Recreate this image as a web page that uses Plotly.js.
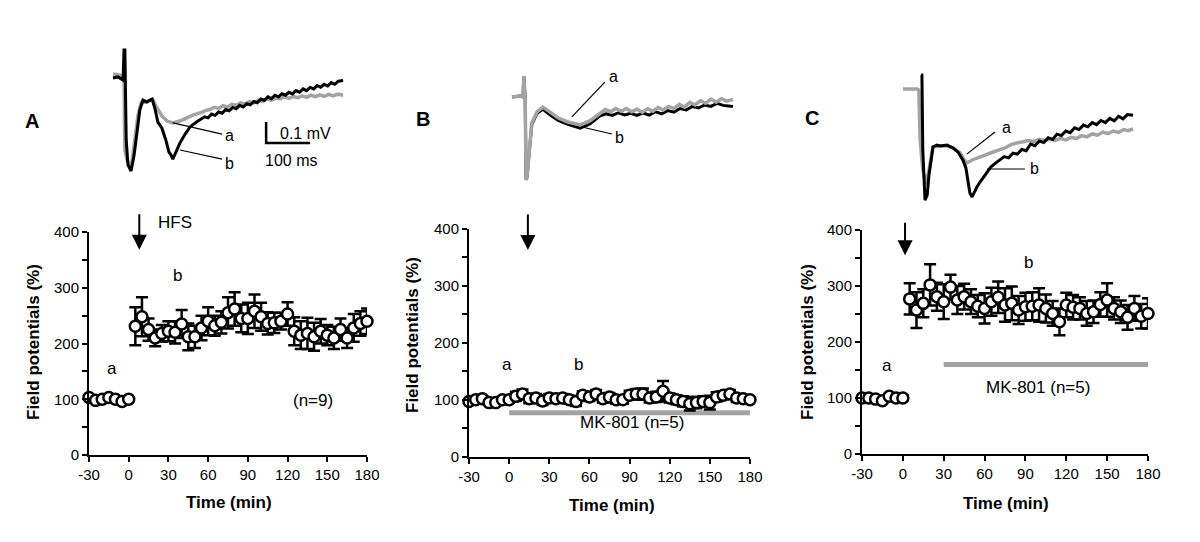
<!DOCTYPE html>
<html><head><meta charset="utf-8">
<script src="https://cdn.plot.ly/plotly-3.0.1.min.js"></script>
<style>html,body{margin:0;padding:0;background:#fff}#chart{width:1200px;height:542px}</style>
</head><body><div id="chart"></div>
<script>
// ---------------- data ----------------
const timeMin = [-30,-25,-20,-15,-10,-5,0,5,10,15,20,25,30,35,40,45,50,55,60,65,70,75,80,85,90,95,100,105,110,115,120,125,130,135,140,145,150,155,160,165,170,175,180];

const fpA = [103,98,100,103,100,96,100, 231,248,225,210,218,222,220,235,212,212,228,240,232,238,255,262,245,245,258,248,236,237,240,253,222,215,218,212,222,215,210,225,210,228,236,240];
const errA = [4,3,3,4,3,3,3, 34,35,20,15,15,18,20,25,24,20,22,25,18,20,28,30,25,28,30,25,20,18,15,21,25,25,28,25,22,18,20,20,18,25,22,23];

const fpB = [97,100,102,95,95,100,100, 106,110,102,103,98,103,102,103,100,97,108,105,110,102,105,100,100,108,110,110,103,105,115,103,100,97,93,95,97,95,105,108,110,103,102,100];
const errB = [4,4,4,4,4,5,5, 8,8,8,7,7,7,7,7,7,8,7,7,7,7,7,7,7,8,9,10,8,9,18,8,8,9,12,10,9,12,8,7,7,7,6,6];

const fpC = [100,100,98,95,103,100,100, 277,257,269,302,281,272,298,275,281,272,264,260,272,280,266,269,257,263,264,266,260,251,236,266,262,260,251,254,267,275,260,254,244,260,246,251];
const errC = [4,4,4,4,4,4,4, 28,32,25,37,25,31,22,25,23,22,20,27,25,28,30,30,25,25,25,30,25,22,24,22,22,20,22,20,22,30,20,20,22,22,22,27];

const xTicks = [-30,0,30,60,90,120,150,180];
const yTicks = [0,50,100,150,200,250,300,350,400];
const yTickText = ['0','','100','','200','','300','','400'];

// drug application bars (MK-801): [start, end, level]
const mk801B = {start: 0, end: 180, level: 77};
const mk801C = {start: 30, end: 180, level: 160};

// HFS arrow times (min) and arrow tip levels (%)
const hfsA = {time: 8, tip: 368};
const hfsB = {time: 14, tip: 363};
const hfsC = {time: 1.6, tip: 355};

// example traces: time (ms) and voltage (mV, relative to baseline)
const trA_a_t = [0,23,25,27,32,39,43,50,57,64,73,84,91,100,111,123,136,152,168,184,200,210,220,230,240,250,260,270,280,290,300,310,320,330,340,350,360,370,380,390,400,410,420,430,440,450,460,470,480,490,500,512,523];
const trA_a_v = [0.019,0.01,0,-0.343,-0.39,-0.419,-0.4,-0.295,-0.176,-0.119,-0.114,-0.105,-0.105,-0.143,-0.181,-0.205,-0.214,-0.205,-0.19,-0.175,-0.165,-0.155,-0.15,-0.14,-0.145,-0.132,-0.138,-0.125,-0.13,-0.118,-0.124,-0.112,-0.118,-0.105,-0.112,-0.1,-0.106,-0.095,-0.1,-0.09,-0.097,-0.088,-0.094,-0.085,-0.092,-0.082,-0.089,-0.08,-0.087,-0.078,-0.085,-0.077,-0.082];
const trA_b_t = [0,11,23,25,27,30,34,41,48,55,61,68,77,84,89,95,102,111,120,127,132,136,143,152,164,175,188,200,208,216,224,232,240,248,256,264,272,280,288,296,304,312,320,328,336,344,352,360,368,376,384,392,400,408,416,424,432,440,448,456,464,472,480,488,496,504,512,523];
const trA_b_v = [0,0.005,-0.01,0.133,0.133,-0.295,-0.414,-0.443,-0.367,-0.248,-0.152,-0.105,-0.114,-0.105,-0.1,-0.143,-0.21,-0.238,-0.295,-0.352,-0.367,-0.386,-0.352,-0.31,-0.267,-0.233,-0.212,-0.195,-0.185,-0.19,-0.172,-0.178,-0.162,-0.168,-0.15,-0.156,-0.14,-0.146,-0.13,-0.138,-0.122,-0.128,-0.112,-0.118,-0.1,-0.106,-0.09,-0.098,-0.082,-0.09,-0.075,-0.082,-0.068,-0.076,-0.06,-0.068,-0.052,-0.06,-0.045,-0.052,-0.036,-0.044,-0.03,-0.038,-0.022,-0.03,-0.015,-0.012];

const trB_a_t = [0,18,25,27,30,32,34,39,45,57,70,86,105,127,155,177,200,212,224,236,248,260,272,284,296,308,320,332,344,356,368,380,392,404,416,428,440,452,464,476,488,502];
const trB_a_v = [0,0.005,0,0.1,-0.014,-0.395,-0.386,-0.252,-0.124,-0.071,-0.048,-0.071,-0.1,-0.119,-0.133,-0.114,-0.076,-0.06,-0.07,-0.055,-0.068,-0.055,-0.07,-0.058,-0.072,-0.056,-0.068,-0.05,-0.062,-0.045,-0.055,-0.035,-0.048,-0.025,-0.038,-0.018,-0.03,-0.01,-0.025,-0.008,-0.02,-0.012];
const trB_b_t = [0,18,25,27,30,32,34,39,45,57,70,86,105,127,155,177,200,214,228,242,256,270,284,298,312,326,340,354,368,382,396,410,424,438,452,466,480,502];
const trB_b_v = [0,0.005,0,0.1,-0.014,-0.39,-0.38,-0.26,-0.13,-0.078,-0.058,-0.085,-0.112,-0.13,-0.148,-0.128,-0.09,-0.08,-0.088,-0.075,-0.085,-0.078,-0.088,-0.076,-0.086,-0.07,-0.08,-0.065,-0.072,-0.055,-0.062,-0.045,-0.052,-0.038,-0.045,-0.03,-0.04,-0.045];

const trC_a_t = [0,32,36,39,45,52,59,64,68,84,100,114,130,139,145,157,168,186,205,232,245,259,272,285,298,310,322,334,346,358,370,382,394,406,418,430,442,454,466,478,490,502,512,523];
const trC_a_v = [0,0,-0.005,-0.243,-0.386,-0.457,-0.386,-0.314,-0.276,-0.271,-0.271,-0.281,-0.305,-0.338,-0.352,-0.338,-0.329,-0.314,-0.3,-0.281,-0.265,-0.257,-0.252,-0.245,-0.25,-0.24,-0.246,-0.238,-0.245,-0.235,-0.242,-0.23,-0.236,-0.222,-0.228,-0.214,-0.22,-0.205,-0.212,-0.2,-0.207,-0.193,-0.198,-0.19];
const trC_b_t = [41,43,45,50,55,59,64,68,77,84,100,114,125,136,143,148,152,157,164,168,175,184,193,200,211,220,230,240,250,260,270,280,290,300,310,320,330,340,350,360,370,380,390,400,410,420,430,440,450,460,470,480,490,500,510,523];
const trC_b_v = [0.067,0.067,-0.29,-0.529,-0.505,-0.41,-0.338,-0.276,-0.267,-0.271,-0.267,-0.281,-0.3,-0.338,-0.376,-0.433,-0.495,-0.514,-0.481,-0.467,-0.443,-0.419,-0.395,-0.371,-0.352,-0.338,-0.322,-0.328,-0.305,-0.31,-0.288,-0.294,-0.262,-0.27,-0.248,-0.255,-0.232,-0.24,-0.215,-0.222,-0.2,-0.208,-0.185,-0.193,-0.172,-0.18,-0.16,-0.17,-0.15,-0.16,-0.14,-0.152,-0.13,-0.142,-0.122,-0.125];

// scale bar
const scaleBarMs = 100, scaleBarMv = 0.1;

// ---------------- layout helpers ----------------
const W = 1200, H = 542;
const PX_PER_MS = 0.44, PX_PER_MV = 210;
const FONT = 'Arial, "Liberation Sans", sans-serif';
const dx = (l, r) => [l / W, r / W];
const dy = (t, b) => [1 - b / H, 1 - t / H];
const px = x => x / W;
const py = y => 1 - y / H;

function mainX(l, r) {
  return {domain: dx(l, r), range: [-30, 180], tickvals: xTicks, ticktext: xTicks.map(String),
    showline: true, linewidth: 2, linecolor: '#000', ticks: 'outside', ticklen: 5, tickwidth: 2, tickcolor: '#000',
    showgrid: false, zeroline: false, tickfont: {family: FONT, size: 15, color: '#000'}, fixedrange: true};
}
function mainY(t, b, anchor) {
  return {domain: dy(t, b), range: [0, 400], anchor: anchor, tickvals: yTicks, ticktext: yTickText,
    showline: true, linewidth: 2, linecolor: '#000', ticks: 'outside', ticklen: 5, tickwidth: 2, tickcolor: '#000',
    showgrid: false, zeroline: false, tickfont: {family: FONT, size: 15, color: '#000'}, fixedrange: true};
}
function insetAxes(box, x0, y0) {
  // box = [left, right, top, bottom] px; (x0,y0) = px position of (0 ms, 0 mV)
  return [
    {domain: dx(box[0], box[1]), range: [(box[0] - x0) / PX_PER_MS, (box[1] - x0) / PX_PER_MS], visible: false, fixedrange: true},
    {domain: dy(box[2], box[3]), range: [(y0 - box[3]) / PX_PER_MV, (y0 - box[2]) / PX_PER_MV], visible: false, fixedrange: true}
  ];
}

const [ixA, iyA] = insetAxes([100, 360, 40, 210], 113, 78);
const [ixB, iyB] = insetAxes([500, 760, 40, 210], 512, 97);
const [ixC, iyC] = insetAxes([890, 1150, 40, 215], 903, 89);

const GRAY = '#a3a3a3';
const traces = [];

function panel(xa, ya, y, err) {
  traces.push({x: timeMin, y: y, xaxis: xa, yaxis: ya, type: 'scatter', mode: 'markers', cliponaxis: false,
    marker: {size: 11, color: '#fff', line: {color: '#000', width: 2.5}},
    error_y: {type: 'data', array: err, visible: true, color: '#000', thickness: 2.5, width: 6},
    hoverinfo: 'x+y'});
}
function bar(xa, ya, b) {
  traces.push({x: [b.start, b.end], y: [b.level, b.level], xaxis: xa, yaxis: ya, type: 'scatter', mode: 'lines',
    line: {color: GRAY, width: 5}, cliponaxis: false, hoverinfo: 'skip'});
}
function line(xa, ya, t, v, color, width) {
  traces.push({x: t, y: v, xaxis: xa, yaxis: ya, type: 'scatter', mode: 'lines',
    line: {color: color, width: width}, hoverinfo: 'skip'});
}

bar('x2', 'y2', mk801B);
bar('x3', 'y3', mk801C);
panel('x', 'y', fpA, errA);
panel('x2', 'y2', fpB, errB);
panel('x3', 'y3', fpC, errC);

// inset A
line('x4', 'y4', trA_a_t, trA_a_v, GRAY, 3.5);
line('x4', 'y4', trA_b_t, trA_b_v, '#000', 3);
line('x4', 'y4', [348, 348, 348 + scaleBarMs], [-0.21, -0.21 - scaleBarMv, -0.21 - scaleBarMv], '#000', 2.5);
line('x4', 'y4', [136, 248], [-0.214, -0.267], '#000', 1.2);
line('x4', 'y4', [152, 248], [-0.343, -0.386], '#000', 1.2);
// inset B
line('x5', 'y5', trB_b_t, trB_b_v, '#000', 3);
line('x5', 'y5', trB_a_t, trB_a_v, GRAY, 3.5);
line('x5', 'y5', [136, 211], [-0.095, 0.071], '#000', 1.2);
line('x5', 'y5', [159, 227], [-0.143, -0.176], '#000', 1.2);
// inset C
line('x6', 'y6', trC_a_t, trC_a_v, GRAY, 3.5);
line('x6', 'y6', trC_b_t, trC_b_v, '#000', 3);
line('x6', 'y6', [145, 209], [-0.31, -0.205], '#000', 1.2);
line('x6', 'y6', [191, 277], [-0.381, -0.381], '#000', 1.2);

function txt(x, y, text, size, bold, extra) {
  return Object.assign({xref: 'paper', yref: 'paper', x: px(x), y: py(y), text: bold ? '<b>' + text + '</b>' : text,
    showarrow: false, xanchor: 'center', yanchor: 'middle', font: {family: FONT, size: size, color: '#000'}}, extra || {});
}
function arrow(xa, ya, a, len) {
  return {xref: xa, yref: ya, x: a.time, y: a.tip, ax: 0, ay: -len, showarrow: true, arrowhead: 2, arrowsize: 1.5,
    arrowwidth: 2, arrowcolor: '#000', text: ''};
}

const annotations = [
  txt(32, 121, 'A', 20, true), txt(423, 119, 'B', 20, true), txt(812, 118, 'C', 20, true),
  // inset labels
  txt(229, 136, 'a', 16), txt(229, 163, 'b', 16),
  txt(278, 133, '0.1 mV', 16, false, {xanchor: 'left'}), txt(263, 161, '100 ms', 16, false, {xanchor: 'left'}),
  txt(613, 77, 'a', 16), txt(619, 137, 'b', 16),
  txt(1007, 127, 'a', 16), txt(1034, 168, 'b', 16),
  // plot labels
  txt(175, 222, 'HFS', 17), txt(112, 368, 'a', 17), txt(177, 275, 'b', 17), txt(313, 400, '(n=9)', 17),
  txt(507, 364, 'a', 17), txt(578, 364, 'b', 17), txt(632, 422, 'MK-801 (n=5)', 17),
  txt(887, 365, 'a', 17), txt(1028, 262, 'b', 17), txt(1038, 387, 'MK-801 (n=5)', 17),
  // axis titles
  txt(33, 342, 'Field potentials (%)', 17, true, {textangle: -90}),
  txt(412, 335, 'Field potentials (%)', 17, true, {textangle: -90}),
  txt(807, 342, 'Field potentials (%)', 17, true, {textangle: -90}),
  txt(229, 502, 'Time (min)', 17, true), txt(612, 505, 'Time (min)', 17, true), txt(1006, 503, 'Time (min)', 17, true),
  arrow('x', 'y', hfsA, 37), arrow('x2', 'y2', hfsB, 37), arrow('x3', 'y3', hfsC, 34)
];

const layout = {
  width: W, height: H, margin: {l: 0, r: 0, t: 0, b: 0}, showlegend: false,
  paper_bgcolor: '#fff', plot_bgcolor: 'rgba(0,0,0,0)', font: {family: FONT, color: '#000'},
  xaxis: mainX(89, 367), yaxis: mainY(232, 455, 'x'),
  xaxis2: Object.assign(mainX(469, 750), {anchor: 'y2'}), yaxis2: mainY(229, 456.7, 'x2'),
  xaxis3: Object.assign(mainX(862, 1148), {anchor: 'y3'}), yaxis3: mainY(230, 454, 'x3'),
  xaxis4: Object.assign(ixA, {anchor: 'y4'}), yaxis4: Object.assign(iyA, {anchor: 'x4'}),
  xaxis5: Object.assign(ixB, {anchor: 'y5'}), yaxis5: Object.assign(iyB, {anchor: 'x5'}),
  xaxis6: Object.assign(ixC, {anchor: 'y6'}), yaxis6: Object.assign(iyC, {anchor: 'x6'}),
  annotations: annotations
};
layout.xaxis.anchor = 'y';

Plotly.newPlot('chart', traces, layout, {displayModeBar: false, staticPlot: true});
</script></body></html>
